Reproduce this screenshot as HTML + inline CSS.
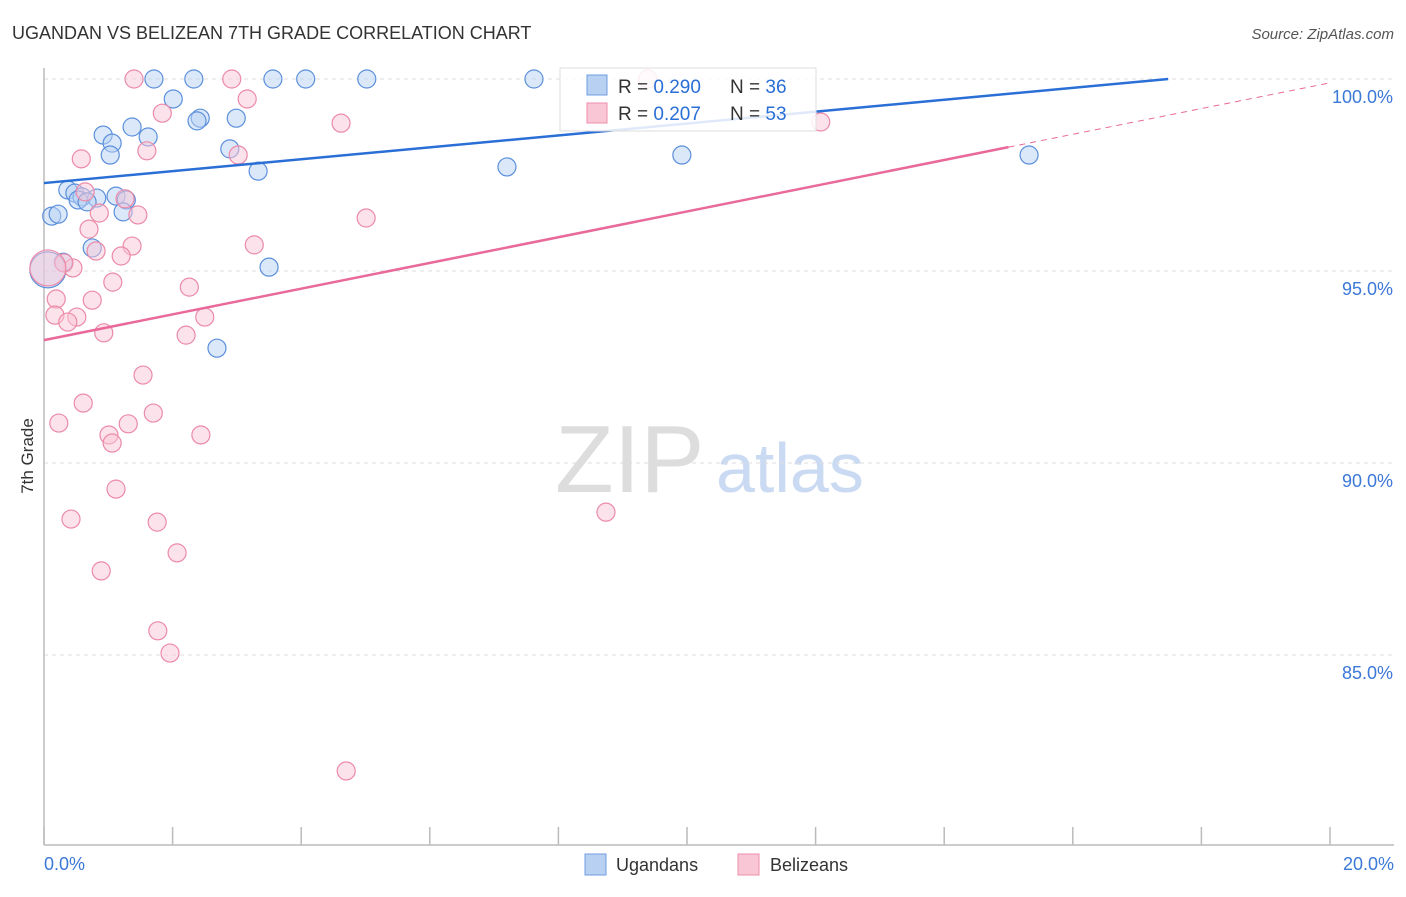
<!DOCTYPE html>
<html><head><meta charset="utf-8"><style>
body{margin:0;background:#fff;font-family:"Liberation Sans",sans-serif;}
svg text{font-family:"Liberation Sans",sans-serif;}
</style></head><body>
<svg id="c" width="1406" height="892" viewBox="0 0 1406 892">
<text x="12" y="39" font-size="18" fill="#333">UGANDAN VS BELIZEAN 7TH GRADE CORRELATION CHART</text>
<text x="1394" y="39" font-size="15" fill="#555" font-style="italic" text-anchor="end">Source: ZipAtlas.com</text>
<text transform="translate(33,456) rotate(-90)" font-size="17" fill="#333" text-anchor="middle">7th Grade</text>
<g>
<text x="555" y="492" font-size="96" fill="#ddd" font-family="Liberation Serif,serif">ZIP</text>
<text x="716" y="492" font-size="70" fill="#c9daf2">atlas</text>
</g>
<g id="grid"></g><g id="axes"></g><g id="pts"></g><g id="lines"></g>
<g>
<rect x="560" y="68" width="256" height="63" fill="#fff" fill-opacity="0.85" stroke="#ddd"/>
<rect x="587" y="75" width="20" height="20" fill="#b8d1f3" stroke="#6f9de0"/>
<text x="618" y="93" font-size="19" fill="#333">R = <tspan fill="#2a6fd6">0.290</tspan></text>
<text x="730" y="93" font-size="19" fill="#333">N = <tspan fill="#2a6fd6">36</tspan></text>
<rect x="587" y="103" width="20" height="20" fill="#f9c6d5" stroke="#ee8eab"/>
<text x="618" y="120" font-size="19" fill="#333">R = <tspan fill="#2a6fd6">0.207</tspan></text>
<text x="730" y="120" font-size="19" fill="#333">N = <tspan fill="#2a6fd6">53</tspan></text>
</g>
<g>
<rect x="585" y="854" width="21" height="21" fill="#b8d1f3" stroke="#6f9de0"/>
<text x="616" y="871" font-size="18" fill="#333">Ugandans</text>
<rect x="738" y="854" width="21" height="21" fill="#f9c6d5" stroke="#ee8eab"/>
<text x="770" y="871" font-size="18" fill="#333">Belizeans</text>
</g>
</svg>
<script>
const blueX=[1.71,2.33,3.56,4.07,5.02,7.62,2.01,2.43,2.38,2.99,1.37,0.92,1.62,1.06,1.03,2.89,3.33,7.20,9.92,15.32,0.37,0.48,0.59,0.82,0.53,0.67,1.12,1.28,1.23,0.12,0.22,0.75,0.30,3.50,2.69,0.06];
const blueY=[100,100,100,100,100,100,99.48,98.98,98.91,98.98,98.75,98.54,98.49,98.33,98.02,98.18,97.60,97.71,98.02,98.02,97.11,97.03,96.93,96.90,96.85,96.80,96.95,96.85,96.54,96.43,96.48,95.60,95.23,95.10,92.99,95.03];
const pinkX=[1.40,2.92,9.39,1.84,3.16,4.62,12.08,0.58,1.60,3.02,0.64,1.26,0.86,1.46,5.01,0.70,0.81,1.37,3.27,1.20,0.45,0.31,1.07,2.26,0.19,0.75,2.50,0.17,0.51,0.37,0.93,2.21,1.54,0.61,1.70,0.23,1.31,1.01,2.44,1.06,1.12,0.42,1.76,8.74,2.07,0.89,1.77,1.96,4.70,0.06];
const pinkY=[100,100,100,99.11,99.48,98.85,98.88,97.92,98.13,98.02,97.06,96.88,96.51,96.46,96.38,96.09,95.52,95.65,95.68,95.39,95.08,95.21,94.71,94.58,94.27,94.24,93.80,93.85,93.80,93.67,93.39,93.33,92.29,91.56,91.30,91.04,91.02,90.73,90.73,90.52,89.32,88.54,88.46,88.72,87.66,87.19,85.63,85.05,81.98,95.08];
const trendIntercept=[97.29,93.20];
const trendSlope=[0.155,0.335];
const yTicks=[100,95,90,85];
const yTickLabels=["100.0%","95.0%","90.0%","85.0%"];
const xTickLabels=["0.0%","20.0%"];

const NS="http://www.w3.org/2000/svg";
const X=v=>44+v/20*1286, Y=v=>79+(100-v)*38.4;
function mk(tag,attrs,parent){const e=document.createElementNS(NS,tag);for(const k in attrs)e.setAttribute(k,attrs[k]);document.getElementById(parent).appendChild(e);return e;}
yTicks.forEach((t,i)=>{
 const g=mk('line',{x1:44,x2:1394,y1:Y(t),y2:Y(t),stroke:'#ddd','stroke-dasharray':'4,4'},'grid');
 
 
 const l=mk('text',{x:1393,y:Y(t)+24,'font-size':18,fill:'#3b78d8','text-anchor':'end'},'grid');
 l.textContent=yTickLabels[i];
 
 
});
const ax=mk('line',{x1:44,x2:44,y1:68,y2:845,stroke:'#bbb','stroke-width':1.5},'axes');


const bx=mk('line',{x1:44,x2:1394,y1:845,y2:845,stroke:'#bbb','stroke-width':1.5},'axes');


for(let i=0;i<=10;i++){
 const t=mk('line',{x1:X(i*2),x2:X(i*2),y1:827,y2:845,stroke:'#bbb','stroke-width':1.5},'axes');
 
 
}
[[0,'start',44],[20,'end',1394]].forEach((d,i)=>{
 const l=mk('text',{x:d[2],y:870,'font-size':18,fill:'#3b78d8','text-anchor':d[1]},'axes');
 l.textContent=xTickLabels[i];
 
 
});
function pts(xs,ys,fill,stroke,name){
 xs.forEach((x,i)=>{
  const big=i===xs.length-1&&x<0.1;
  const c=mk('circle',{cx:X(x),cy:Y(ys[i]),r:big?18:9,fill:fill,'fill-opacity':0.5,stroke:stroke,'stroke-width':1.2},'pts');
  
  
 });
}
pts(blueX,blueY,'#b8d1f3','#5b8fdc','point-ugandans');
pts(pinkX,pinkY,'#f9c6d5','#ec8aa8','point-belizeans');
const bEnd=(100-trendIntercept[0])/trendSlope[0];
const bl=mk('line',{x1:X(0),y1:Y(trendIntercept[0]),x2:X(bEnd),y2:Y(100),stroke:'#2a6fd6','stroke-width':2.5},'lines');


const pl=mk('line',{x1:X(0),y1:Y(trendIntercept[1]),x2:X(15),y2:Y(trendIntercept[1]+15*trendSlope[1]),stroke:'#e8699a','stroke-width':2.5},'lines');


const pd=mk('line',{x1:X(15),y1:Y(trendIntercept[1]+15*trendSlope[1]),x2:X(20),y2:Y(trendIntercept[1]+20*trendSlope[1]),stroke:'#e8699a','stroke-width':1,'stroke-dasharray':'6,5'},'lines');


</script>
</body></html>
